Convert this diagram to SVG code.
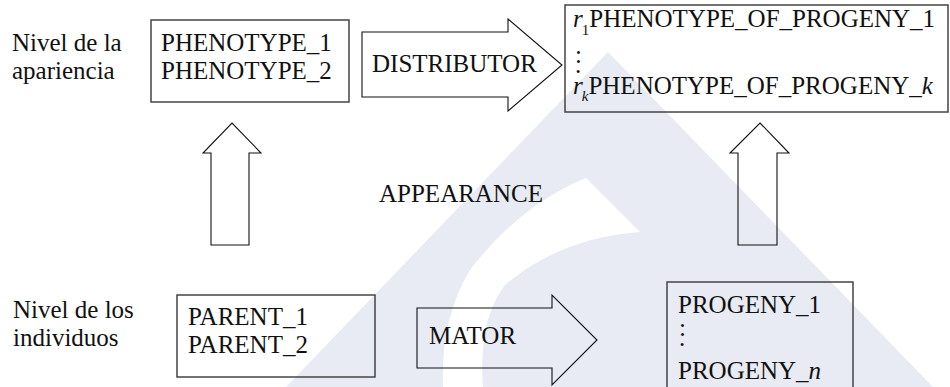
<svg xmlns="http://www.w3.org/2000/svg" width="950" height="387" viewBox="0 0 950 387" font-family="'Liberation Serif', 'Times New Roman', 'DejaVu Serif', serif">
<style>
text{font-family:'Liberation Serif','Times New Roman','DejaVu Serif',serif;font-size:25px;fill:#111}
.box{fill:none;stroke:#444;stroke-width:1.5}
.arr{fill:none;stroke:#111;stroke-width:1.1;stroke-linejoin:miter}
.it{font-style:italic}
.sub{font-size:15px}
</style>
<rect width="950" height="387" fill="#fff"/>
<g id="watermark">
<polygon points="608,52 286,387 933,387" fill="#e8ebf3"/>
<path d="M586,178 L640,232 Q560,238 505,285 Q478,320 483,387 L443,387 Q440,320 470,270 Q520,205 586,178 Z" fill="#fff"/>
</g>
<g id="labels">
<text x="12" y="51">Nivel de la</text>
<text x="12" y="79">apariencia</text>
<text x="13" y="318">Nivel de los</text>
<text x="13" y="346">individuos</text>
</g>
<g id="phenotypes">
<rect class="box" x="151" y="20" width="198" height="82"/>
<text x="161" y="51">PHENOTYPE_1</text>
<text x="161" y="79">PHENOTYPE_2</text>
</g>
<g id="progeny-phenotypes">
<rect class="box" x="565" y="5" width="383" height="107"/>
<text x="573" y="27"><tspan class="it">r</tspan><tspan class="sub" dx="-1" dy="8">1</tspan><tspan dy="-8">PHENOTYPE_OF_PROGENY_1</tspan></text>
<text x="575" y="63">:</text>
<text x="575" y="73">.</text>
<text x="573" y="94"><tspan class="it">r</tspan><tspan class="sub it" dx="-1" dy="7">k</tspan><tspan dy="-7">PHENOTYPE_OF_PROGENY_</tspan><tspan class="it">k</tspan></text>
</g>
<g id="parents">
<rect class="box" x="177" y="295" width="198" height="82"/>
<text x="188" y="325">PARENT_1</text>
<text x="188" y="353">PARENT_2</text>
</g>
<g id="progeny">
<rect class="box" x="667" y="282" width="186" height="110"/>
<text x="678" y="313">PROGENY_1</text>
<text x="679" y="336">:</text>
<text x="679" y="346">.</text>
<text x="678" y="379">PROGENY_<tspan class="it">n</tspan></text>
</g>
<g id="connectors">
<g id="distributor">
<polygon class="arr" points="362,32 508,32 508,19 562,65 508,111 508,97 362,97"/>
<text x="372" y="72">DISTRIBUTOR</text>
</g>
<g id="mator">
<polygon class="arr" points="417,308 552,308 552,295 597,340 552,385 552,368 417,368"/>
<text x="429" y="344">MATOR</text>
</g>
<g id="appearance">
<polygon class="arr" points="211,245 211,153 203,153 232,123 261,153 249,153 249,245"/>
<polygon class="arr" points="738,245 738,153 730,153 760,123 789,153 777,153 777,245"/>
<text x="379" y="202">APPEARANCE</text>
</g>
</g>
</svg>
